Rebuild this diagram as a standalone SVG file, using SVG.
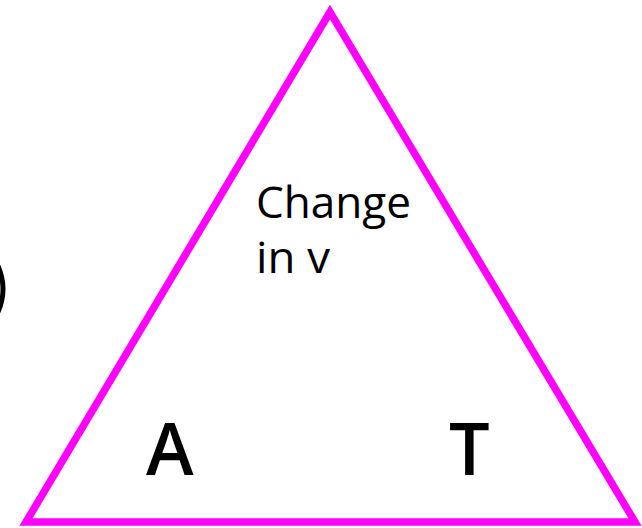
<svg xmlns="http://www.w3.org/2000/svg" width="642" height="528" viewBox="0 0 642 528">
<style>
.lbl{font-family:"Open Sans","DejaVu Sans",sans-serif;fill:#000}
.big{font-size:72px;font-weight:600}
</style>
<rect width="642" height="528" fill="#fff"/>
<g id="triangle">
<polygon points="330,12 26,522 635,522" fill="none" stroke="#ff00ff" stroke-width="7.5" stroke-linejoin="miter"/>
</g>
<g id="paren">
<path d="M-2,266 Q8,289 -2,312" fill="none" stroke="#000" stroke-width="5"/>
</g>
<g id="label-top">
<text class="lbl" x="256" y="218" font-size="43" textLength="155" lengthAdjust="spacingAndGlyphs">Change</text>
<text class="lbl" x="256" y="273" font-size="43" textLength="74" lengthAdjust="spacingAndGlyphs">in v</text>
</g>
<g id="label-A">
<text class="lbl big" x="146" y="475">A</text>
</g>
<g id="label-T">
<text class="lbl big" x="449" y="475">T</text>
</g>
</svg>
